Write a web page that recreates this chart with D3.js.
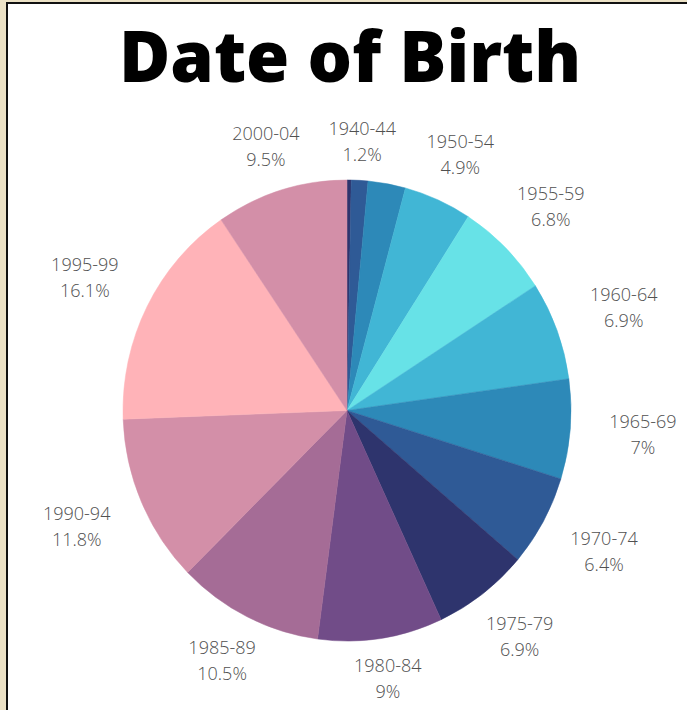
<!DOCTYPE html>
<html>
<head>
<meta charset="utf-8">
<script src="https://cdn.jsdelivr.net/npm/d3@7"></script>
<style>
  html, body { margin: 0; padding: 0; background: #ece2c6; }
  svg { display: block; }
</style>
</head>
<body>
<svg id="chart" width="687" height="710"></svg>
<script>
// ---- data ----
const categories = ["1935-39", "1940-44", "1945-49", "1950-54", "1955-59", "1960-64", "1965-69",
                    "1970-74", "1975-79", "1980-84", "1985-89", "1990-94", "1995-99", "2000-04"];
const values = [0.3, 1.2, 2.7, 4.9, 6.8, 6.9, 7, 6.4, 6.9, 9, 10.5, 11.8, 16.1, 9.5];
const colors = ["#2e346d", "#2f5a96", "#2d89b8", "#41b6d5", "#67e2e7", "#41b6d5", "#2d89b8",
                "#2f5a96", "#2e346d", "#714c88", "#a56c96", "#d38fa8", "#ffb3b8", "#d38fa8"];
const labelledCategories = ["1940-44", "1950-54", "1955-59", "1960-64", "1965-69", "1970-74",
                            "1975-79", "1980-84", "1985-89", "1990-94", "1995-99", "2000-04"];
const title = "Date of Birth";

// ---- drawing ----
const svg = d3.select("#chart");
const W = 687, H = 710;

// frame
svg.append("rect").attr("x", 0).attr("y", 0).attr("width", W).attr("height", H).attr("fill", "#ece2c6");
svg.append("rect").attr("x", 7).attr("y", 3).attr("width", W + 20).attr("height", H + 20)
  .attr("fill", "#ffffff").attr("stroke", "#111111").attr("stroke-width", 2);

// title
svg.append("text")
  .attr("x", 350).attr("y", 82)
  .attr("text-anchor", "middle")
  .attr("font-family", "'Open Sans', 'Noto Sans', sans-serif")
  .attr("font-weight", 800)
  .attr("font-size", 70)
  .attr("fill", "#000")
  .text(title);

const cx = 347, cy = 410.5, r = 224, yStretch = 1.029;
const data = categories.map((c, i) => ({ cat: c, value: values[i], color: colors[i] }));

const pie = d3.pie().value(d => d.value).sort(null).startAngle(0).endAngle(2 * Math.PI);
const arc = d3.arc().innerRadius(0).outerRadius(r);
const arcs = pie(data);

const g = svg.append("g").attr("transform", `translate(${cx},${cy})`);
g.append("g").attr("transform", `scale(1,${yStretch})`)
  .selectAll("path.slice")
  .data(arcs)
  .join("path")
  .attr("class", "slice")
  .attr("d", arc)
  .attr("fill", d => d.data.color)
  .attr("stroke", d => d.data.color)
  .attr("stroke-width", 0.5);

// labels
const labelArcs = arcs.filter(d => labelledCategories.includes(d.data.cat));
const lab = g.selectAll("g.lab")
  .data(labelArcs)
  .join("g")
  .attr("class", "lab")
  .attr("transform", d => {
    const a = (d.startAngle + d.endAngle) / 2;
    const dist = 267 + 30 * Math.abs(Math.sin(a));
    return `translate(${dist * Math.sin(a)},${-dist * Math.cos(a)})`;
  });

const fontStyle = sel => sel
  .attr("text-anchor", "middle")
  .attr("font-family", "'Open Sans', 'Noto Sans', sans-serif")
  .attr("font-weight", 300)
  .attr("font-size", 18)
  .attr("fill", "#505050");

lab.append("text").call(fontStyle).attr("y", -7).text(d => d.data.cat);
lab.append("text").call(fontStyle).attr("y", 19).text(d => d.data.value + "%");
</script>
</body>
</html>
